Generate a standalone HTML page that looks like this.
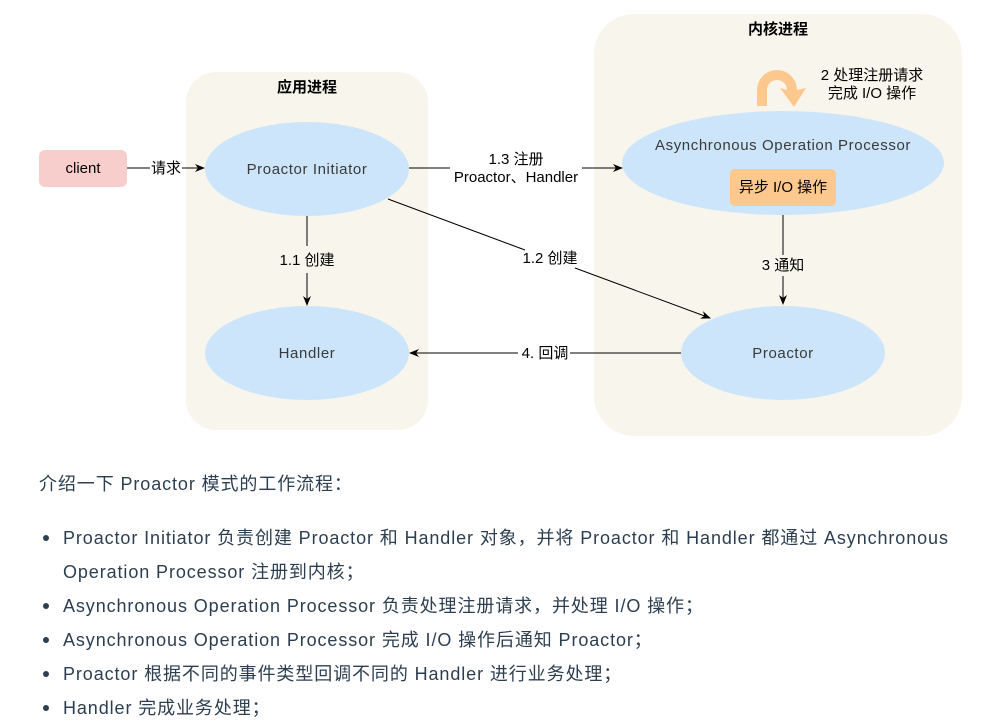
<!DOCTYPE html>
<html><head><meta charset="utf-8"><style>
body{margin:0;background:#fff;width:996px;height:725px;overflow:hidden;position:relative;font-family:"Liberation Sans","Noto Sans CJK SC",sans-serif}
.t{position:absolute;left:0;font-size:18px;color:#2c3e50;white-space:nowrap;line-height:24px;letter-spacing:0.9px}
.dot{position:absolute;left:43px;width:6px;height:6px;border-radius:50%;background:#2c3e50}
.e{font-size:15px;letter-spacing:0.6px;fill:#3a3a3a}
.c{font-size:15px}
</style></head><body>
<svg width="996" height="450" style="position:absolute;left:0;top:0" font-family="Liberation Sans, Noto Sans CJK SC, sans-serif">
<defs><marker id="a" markerWidth="10" markerHeight="8" refX="9" refY="4" orient="auto" markerUnits="userSpaceOnUse"><path d="M0,0 L10,4 L0,8 L3,4z" fill="#000"/></marker></defs>
<rect x="186" y="72" width="242" height="358" rx="30" fill="#f8f6ec"/>
<rect x="594" y="14" width="368" height="422" rx="40" fill="#f8f6ec"/>
<text x="307" y="92" font-size="15" font-weight="bold" text-anchor="middle">应用进程</text>
<text x="778" y="34" font-size="15" font-weight="bold" text-anchor="middle">内核进程</text>
<rect x="39" y="150" width="88" height="37" rx="6" fill="#f8cecc"/>
<text x="83" y="173" class="c" text-anchor="middle">client</text>
<ellipse cx="307" cy="169" rx="102" ry="47" fill="#cce5fb"/>
<text x="307" y="174" class="e" text-anchor="middle">Proactor Initiator</text>
<ellipse cx="307" cy="353" rx="102" ry="47" fill="#cce5fb"/>
<text x="307" y="358" class="e" text-anchor="middle">Handler</text>
<ellipse cx="783" cy="163" rx="161" ry="52" fill="#cce5fb"/>
<text x="783" y="150" class="e" text-anchor="middle">Asynchronous Operation Processor</text>
<rect x="730" y="169" width="106" height="37" rx="5" fill="#fcc88e"/>
<text x="783" y="192" class="c" text-anchor="middle">异步 I/O 操作</text>
<ellipse cx="783" cy="353" rx="102" ry="47" fill="#cce5fb"/>
<text x="783" y="358" class="e" text-anchor="middle">Proactor</text>
<path d="M757,106 V90 A20,20 0 0 1 797,90 L806,88 L794,107 L780,88 L787,90 A10,10 0 0 0 767,90 V106z" fill="#fcc88e"/>
<text x="872" y="80" class="c" text-anchor="middle">2 处理注册请求</text>
<text x="872" y="98" class="c" text-anchor="middle">完成 I/O 操作</text>
<line x1="127" y1="168" x2="150" y2="168" stroke="#000"/>
<text x="166" y="173" class="c" text-anchor="middle">请求</text>
<line x1="182" y1="168" x2="204" y2="168" stroke="#000" marker-end="url(#a)"/>
<line x1="409" y1="168" x2="450" y2="168" stroke="#000"/>
<line x1="582" y1="168" x2="622" y2="168" stroke="#000" marker-end="url(#a)"/>
<text x="516" y="164" class="c" text-anchor="middle">1.3 注册</text>
<text x="516" y="182" class="c" text-anchor="middle">Proactor、Handler</text>
<line x1="307" y1="216" x2="307" y2="246" stroke="#000"/>
<text x="307" y="265" class="c" text-anchor="middle">1.1 创建</text>
<line x1="307" y1="273" x2="307" y2="305" stroke="#000" marker-end="url(#a)"/>
<line x1="388" y1="199" x2="525" y2="250" stroke="#000"/>
<text x="550" y="263" class="c" text-anchor="middle">1.2 创建</text>
<line x1="575" y1="268" x2="710" y2="318" stroke="#000" marker-end="url(#a)"/>
<line x1="783" y1="215" x2="783" y2="255" stroke="#000"/>
<text x="783" y="270" class="c" text-anchor="middle">3 通知</text>
<line x1="783" y1="276" x2="783" y2="304" stroke="#000" marker-end="url(#a)"/>
<line x1="681" y1="353" x2="570" y2="353" stroke="#000"/>
<text x="545" y="358" class="c" text-anchor="middle">4. 回调</text>
<line x1="518" y1="353" x2="410" y2="353" stroke="#000" marker-end="url(#a)"/>
</svg>
<div class="t" style="left:39px;top:472px">介绍一下 Proactor 模式的工作流程：</div>
<div class="dot" style="top:535px"></div>
<div class="t" style="left:63px;top:526px">Proactor Initiator 负责创建 Proactor 和 Handler 对象，并将 Proactor 和 Handler 都通过 Asynchronous</div>
<div class="t" style="left:63px;top:560px">Operation Processor 注册到内核；</div>
<div class="dot" style="top:603px"></div>
<div class="t" style="left:63px;top:594px">Asynchronous Operation Processor 负责处理注册请求，并处理 I/O 操作；</div>
<div class="dot" style="top:637px"></div>
<div class="t" style="left:63px;top:628px">Asynchronous Operation Processor 完成 I/O 操作后通知 Proactor；</div>
<div class="dot" style="top:671px"></div>
<div class="t" style="left:63px;top:662px">Proactor 根据不同的事件类型回调不同的 Handler 进行业务处理；</div>
<div class="dot" style="top:705px"></div>
<div class="t" style="left:63px;top:696px">Handler 完成业务处理；</div>
</body></html>
